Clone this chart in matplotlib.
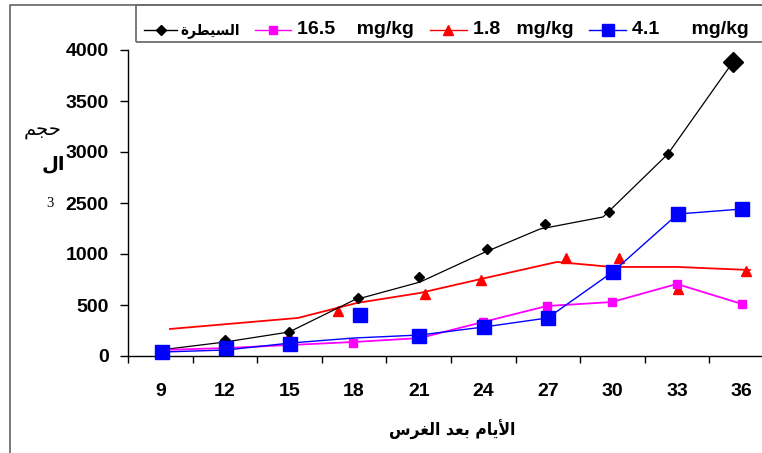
import numpy as np
import matplotlib
matplotlib.use("Agg")
import matplotlib.pyplot as plt
from matplotlib.lines import Line2D
from matplotlib.patches import Rectangle

plt.rcParams['font.family'] = ['Liberation Sans', 'DejaVu Sans']
plt.rcParams['font.weight'] = 'bold'

# ---------------------------------------------------------------- data
days = [9, 12, 15, 18, 21, 24, 27, 30, 33, 36]
ytick_values = [0, 500, 1000, 1500, 2000, 2500, 3000]
ytick_labels = ['0', '500', '1000', '2500', '3000', '3500', '4000']

series_names = ['السيطرة', '16.5    mg/kg', '1.8   mg/kg', '4.1      mg/kg']

# control
ctrl_line_x = [8.99, 12.0, 14.98, 18.0, 21.06, 23.99, 26.63, 29.56, 32.57, 35.59]
ctrl_line_y = [59, 137, 235, 549, 725, 1010, 1245, 1363, 1980, 2882]
ctrl_mark_x = [9.0, 12.0, 14.98, 18.18, 21.01, 24.17, 26.86, 29.83, 32.57]
ctrl_mark_y = [59, 157, 235, 569, 775, 1049, 1294, 1412, 1980]
ctrl_last_x = [35.59]
ctrl_last_y = [2882]

# 16.5 mg/kg
mg165_line_x = [9.08, 12.06, 15.03, 17.96, 21.06, 23.98, 26.95, 29.97, 32.99, 36.01]
mg165_line_y = [59, 78, 108, 137, 176, 333, 490, 529, 706, 510]
mg165_mark_x = [9.08, 12.06, 15.03, 17.96, 21.06, 23.98, 26.95, 29.97, 32.99, 36.01]
mg165_mark_y = [59, 78, 108, 127, 176, 333, 490, 529, 706, 510]

# 1.8 mg/kg
mg18_line_x = [9.45, 15.39, 18.13, 21.06, 23.89, 27.42, 29.97, 32.99, 36.38]
mg18_line_y = [265, 373, 520, 618, 755, 922, 873, 873, 843]
mg18_mark_x = [14.98, 17.25, 21.29, 23.89, 27.84, 30.3, 33.04, 36.19]
mg18_mark_y = [196, 441, 608, 745, 961, 961, 657, 833]

# 4.1 mg/kg
mg41_line_x = [9.08, 12.06, 15.03, 17.96, 21.06, 24.02, 26.99, 30.01, 33.03, 36.01]
mg41_line_y = [39, 59, 127, 176, 206, 284, 373, 824, 1392, 1441]
mg41_mark_x = [9.08, 12.06, 15.03, 18.27, 21.01, 24.02, 26.99, 30.01, 33.03, 36.01]
mg41_mark_y = [39, 78, 118, 402, 196, 284, 373, 824, 1392, 1441]

# ------------------------------------------------- Arabic text shaping
_FORMS = {
    '\u0627': ('\uFE8D', '\uFE8E', None, None),
    '\u0623': ('\uFE83', '\uFE84', None, None),
    '\u0644': ('\uFEDD', '\uFEDE', '\uFEDF', '\uFEE0'),
    '\u0633': ('\uFEB1', '\uFEB2', '\uFEB3', '\uFEB4'),
    '\u064A': ('\uFEF1', '\uFEF2', '\uFEF3', '\uFEF4'),
    '\u0637': ('\uFEC1', '\uFEC2', '\uFEC3', '\uFEC4'),
    '\u0631': ('\uFEAD', '\uFEAE', None, None),
    '\u0629': ('\uFE93', '\uFE94', None, None),
    '\u0645': ('\uFEE1', '\uFEE2', '\uFEE3', '\uFEE4'),
    '\u0628': ('\uFE8F', '\uFE90', '\uFE91', '\uFE92'),
    '\u0639': ('\uFEC9', '\uFECA', '\uFECB', '\uFECC'),
    '\u062F': ('\uFEA9', '\uFEAA', None, None),
    '\u063A': ('\uFECD', '\uFECE', '\uFECF', '\uFED0'),
    '\u062D': ('\uFEA1', '\uFEA2', '\uFEA3', '\uFEA4'),
    '\u062C': ('\uFE9D', '\uFE9E', '\uFE9F', '\uFEA0'),
}
_LAM_ALEF = {'\u0627': ('\uFEFB', '\uFEFC'), '\u0623': ('\uFEF7', '\uFEF8')}


def shape(text):
    """Join Arabic letters into presentation forms and put them in visual order."""
    units = []
    i = 0
    while i < len(text):
        c = text[i]
        if c == '\u0644' and i + 1 < len(text) and text[i + 1] in _LAM_ALEF:
            units.append(('LA', text[i + 1]))
            i += 2
        else:
            units.append(('C', c))
            i += 1

    def joins_next(u):
        if u[0] == 'LA':
            return False
        f = _FORMS.get(u[1])
        return f is not None and f[2] is not None

    def joins_prev(u):
        return u[0] == 'LA' or u[1] in _FORMS

    out = []
    for k, u in enumerate(units):
        prev = units[k - 1] if k > 0 else None
        nxt = units[k + 1] if k + 1 < len(units) else None
        p = prev is not None and joins_next(prev) and joins_prev(u)
        n = nxt is not None and joins_next(u) and joins_prev(nxt)
        if u[0] == 'LA':
            out.append(_LAM_ALEF[u[1]][1 if p else 0])
        elif u[1] in _FORMS:
            iso, fin, ini, med = _FORMS[u[1]]
            out.append(med if (p and n) else fin if p else ini if n else iso)
        else:
            out.append(u[1])
    return ''.join(reversed(out))


# ------------------------------------------------------------- figure
W, H = 762, 453
fig = plt.figure(figsize=(W / 100, H / 100), dpi=100)


def fx(px):
    return px / W


def fy(py):
    return 1 - py / H


ax = fig.add_axes([fx(128), fy(356), 646 / W, 306 / H])
ax.set_xlim(7.5, 37.5)
ax.set_ylim(0, 3000)

for s in ('top', 'right'):
    ax.spines[s].set_visible(False)
for s in ('left', 'bottom'):
    ax.spines[s].set_linewidth(1.0)
    ax.spines[s].set_color('black')

# category separators on the x axis, labels centred between them
ax.set_xticks(np.arange(7.5, 38, 3))
ax.set_xticklabels([])
ax.set_xticks(days, [str(d) for d in days], minor=True)
ax.tick_params(axis='x', which='major', direction='out', length=5, width=1)
ax.tick_params(axis='x', which='minor', length=0, pad=19.5, labelsize=14)
ax.set_yticks(ytick_values, ytick_labels)
ax.tick_params(axis='y', direction='out', length=5.8, width=1, pad=8, labelsize=14)
for lab in ax.get_xticklabels(minor=True) + ax.get_yticklabels():
    lab.set_fontweight('bold')

# series: red, black, magenta, blue (blue on top)
ax.plot(mg18_line_x, mg18_line_y, color='red', lw=1.3, zorder=2, clip_on=False)
ax.plot(mg18_mark_x, mg18_mark_y, ls='none', marker='^', ms=7, color='red',
        mec='red', zorder=2.1, clip_on=False)

ax.plot(ctrl_line_x, ctrl_line_y, color='black', lw=0.9, zorder=3, clip_on=False)
ax.plot(ctrl_mark_x, ctrl_mark_y, ls='none', marker='D', ms=5.2, color='black',
        zorder=3.1, clip_on=False)
ax.plot(ctrl_last_x, ctrl_last_y, ls='none', marker='D', ms=10, color='black',
        zorder=3.1, clip_on=False)

ax.plot(mg165_line_x, mg165_line_y, color='#ff00ff', lw=1.3, zorder=4, clip_on=False)
ax.plot(mg165_mark_x, mg165_mark_y, ls='none', marker='s', ms=5.2, color='#ff00ff',
        zorder=4.1, clip_on=False)

ax.plot(mg41_line_x, mg41_line_y, color='blue', lw=1.0, zorder=5, clip_on=False)
ax.plot(mg41_mark_x, mg41_mark_y, ls='none', marker='s', ms=9.5, color='blue',
        zorder=5.1, clip_on=False)

# legend: sample line with marker, then its label, in one row
legend_y = 30
legend_items = [
    # (line start, line end, colour, marker, marker size, text x, text anchor)
    (144, 177, 'black', 'D', 5, 240, 'right'),
    (255, 291, '#ff00ff', 's', 5.5, 297, 'left'),
    (430, 467, 'red', '^', 6.5, 473, 'left'),
    (589, 626, 'blue', 's', 8.5, 632, 'left'),
]
for (x0, x1, col, mk, ms, tx, ha), name in zip(legend_items, series_names):
    fig.add_artist(Line2D([fx(x0), fx(x1)], [fy(legend_y)] * 2, transform=fig.transFigure,
                          color=col, lw=1))
    fig.add_artist(Line2D([fx((x0 + x1) / 2)], [fy(legend_y)], transform=fig.transFigure,
                          color=col, marker=mk, ms=ms, ls='none'))
    if ha == 'right':
        fig.text(fx(tx), fy(legend_y), shape(name), ha='right', va='center',
                 fontsize=11, fontweight='bold', family=['DejaVu Sans'],
                 fontstretch='condensed')
    else:
        fig.text(fx(tx), fy(legend_y), name, ha='left', va='center',
                 fontsize=14, fontweight='bold')

fig.add_artist(Rectangle((fx(136), fy(42)), fx(780) - fx(136), fy(5) - fy(42),
                         transform=fig.transFigure, fill=False,
                         edgecolor='#6e6e6e', lw=1.3))

# outer frame (left and top edges)
fig.add_artist(Line2D([fx(10), fx(10), fx(770)], [fy(460), fy(5), fy(5)],
                      transform=fig.transFigure, color='#6e6e6e', lw=1.3))

# axis titles
fig.text(fx(452), fy(430), shape('الأيام بعد الغرس'), ha='center', va='center',
         fontsize=12.5, fontweight='bold', family=['DejaVu Sans'], fontstretch='condensed')
fig.text(fx(43), fy(131), shape('حجم'), ha='center', va='center',
         fontsize=14, fontweight='normal', family=['DejaVu Sans'])
fig.text(fx(53), fy(164), shape('ال'), ha='center', va='center',
         fontsize=14, fontweight='bold', family=['DejaVu Sans'])
fig.text(fx(50), fy(203), '3', ha='center', va='center',
         fontsize=10.5, fontweight='normal', family=['Liberation Serif'])

fig.savefig('out.png', dpi=100)
